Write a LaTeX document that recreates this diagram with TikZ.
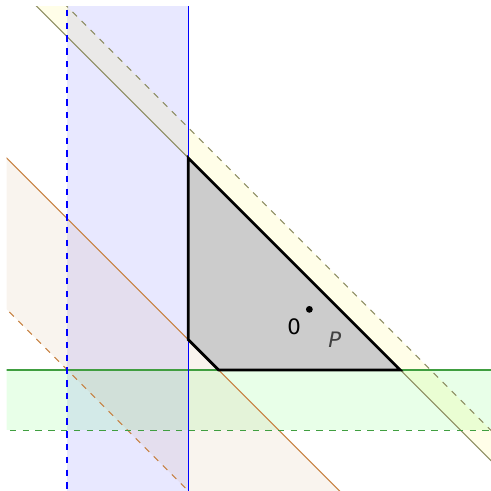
\documentclass[tikz,border=0pt]{standalone}
\usepackage{fontspec}
\setmainfont{DejaVu Sans}
\definecolor{lnGreen}{rgb}{0.25,0.62,0.25}
\definecolor{lnBrown}{rgb}{0.78,0.5,0.25}
\definecolor{lnOlive}{rgb}{0.55,0.55,0.38}
\begin{document}
\begin{tikzpicture}[
  stripfill/.style={fill=#1, fill opacity=0.09, draw=none},
  lbl/.style={font=\fontsize{10}{12}\selectfont, inner sep=1pt}
]
\useasboundingbox (-5.11,-3) rectangle (3,5.11);
\begin{scope}
\clip (-5,-3) rectangle (3,5);
% strips
\path[stripfill=blue] (-4,-4) rectangle (-2,6);
\path[stripfill=green] (-6,-2) rectangle (4,-1);
\path[stripfill=yellow] (-6,6.5) -- (4,-3.5) -- (4,-3) -- (-6,7) -- cycle;
\path[stripfill=brown] (-6,3.5) -- (4,-6.5) -- (4,-9) -- (-6,1) -- cycle;
% polygon P
\fill[black!20] (-2,2.5) -- (-2,-0.5) -- (-1.5,-1) -- (1.5,-1) -- cycle;
% boundary lines
\coordinate (bt) at (-2,6); \coordinate (bb) at (-2,-4);
\coordinate (bdt) at (-4,6); \coordinate (bdb) at (-4,-4);
\coordinate (gl) at (-6,-1); \coordinate (gr) at (4,-1);
\coordinate (gdl) at (-6,-2); \coordinate (gdr) at (4,-2);
\coordinate (ol) at (-6,6.5); \coordinate (or) at (4,-3.5);
\coordinate (odl) at (-6,7); \coordinate (odr) at (4,-3);
\coordinate (brl) at (-6,3.5); \coordinate (brr) at (4,-6.5);
\coordinate (brdl) at (-6,1); \coordinate (brdr) at (4,-9);
\draw[color=lnBrown, line width=0.5pt] (brl) -- (brr);
\draw[color=lnBrown, line width=0.5pt, dashed] (brdl) -- (brdr);
\draw[color=lnOlive, line width=0.5pt] (ol) -- (or);
\draw[color=lnOlive, line width=0.5pt, dashed] (odl) -- (odr);
\draw[color=lnGreen, line width=0.6pt] (gl) -- (gr);
\draw[color=lnGreen, line width=0.7pt, dashed] (gdl) -- (gdr);
\draw[color=blue, line width=0.5pt] (bt) -- (bb);
\draw[color=blue, line width=0.75pt, dashed] (bdt) -- (bdb);
% polygon outline on top
\draw[black, line width=1.3pt, line join=miter] (-2,2.5) -- (-2,-0.5) -- (-1.5,-1) -- (1.5,-1) -- cycle;
\end{scope}
\fill (0,0) circle (1.6pt);
\node[lbl] (zero) at (-0.25,-0.28) {0};
\node[lbl, text=black!75] (plbl) at (0.42,-0.5) {\itshape P};
\end{tikzpicture}
\end{document}
